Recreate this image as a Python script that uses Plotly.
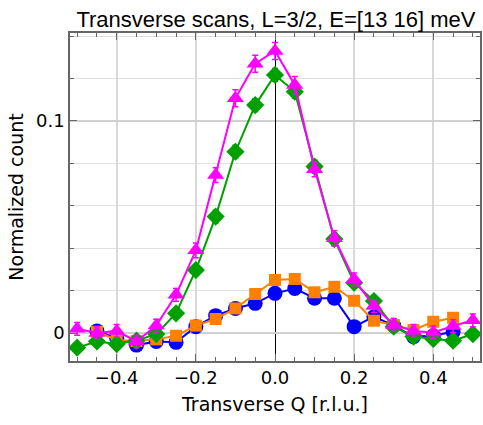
import plotly.graph_objects as go

q = [-0.5, -0.45, -0.4, -0.35, -0.3, -0.25, -0.2, -0.15, -0.1, -0.05, 0.0,
     0.05, 0.1, 0.15, 0.2, 0.25, 0.3, 0.35, 0.4, 0.45, 0.5]
q_short = q[1:20]

blue_vals = [0.001, -0.0025, -0.0057, -0.004, -0.0044, 0.003, 0.0082, 0.0116, 0.014, 0.0187,
             0.021, 0.0164, 0.0164, 0.003, 0.0077, 0.0035, -0.0017, -0.0013, 0.0006]
blue_err = [0.0015] * 19

orange_vals = [0.0006, -0.0033, -0.0038, -0.003, -0.0013, 0.0035, 0.0066, 0.0116, 0.0184, 0.025,
               0.0255, 0.0192, 0.0218, 0.0152, 0.0058, 0.0038, 0.0014, 0.0053, 0.0072]
orange_err = [0.0015] * 19

green_vals = [-0.0069, -0.004, -0.0052, -0.0036, -0.0005, 0.0093, 0.0297, 0.0549, 0.0855, 0.1075,
              0.1217, 0.1138, 0.0785, 0.0443, 0.0237, 0.0151, 0.003, -0.0017, -0.0028, -0.0036, -0.0005]
green_err = [0.002, 0.002, 0.002, 0.002, 0.002, 0.002, 0.0025, 0.003, 0.003, 0.003,
             0.003, 0.003, 0.003, 0.003, 0.0025, 0.002, 0.002, 0.002, 0.002, 0.002, 0.002]

magenta_vals = [0.002, 0.0, 0.001, -0.004, 0.0035, 0.018, 0.039, 0.0745, 0.1107, 0.127,
                0.133, 0.117, 0.0772, 0.0447, 0.0253, 0.0127, 0.0038, 0.001, 0.0003, 0.0033, 0.006]
magenta_err = [0.003, 0.003, 0.003, 0.003, 0.003, 0.003, 0.0035, 0.0035, 0.004, 0.004,
               0.004, 0.004, 0.0035, 0.0035, 0.003, 0.003, 0.003, 0.003, 0.003, 0.003, 0.003]

series = [
    (q_short, blue_vals, blue_err, "#0000FF", "circle", 15),
    (q_short, orange_vals, orange_err, "#FF8000", "square", 12),
    (q, green_vals, green_err, "#00A000", "diamond", 14),
    (q, magenta_vals, magenta_err, "#FF00FF", "triangle-up", 15),
]

fig = go.Figure()
for xs, ys, es, col, sym, sz in series:
    fig.add_trace(go.Scatter(
        x=xs, y=ys, mode="lines+markers",
        line=dict(color=col, width=2),
        marker=dict(color=col, symbol=sym, size=sz, line=dict(width=0)),
        error_y=dict(type="data", array=es, visible=True, color=col, thickness=1.5, width=3),
        showlegend=False,
    ))

fig.update_layout(
    width=483, height=425,
    margin=dict(l=70, r=1, t=33, b=64),
    paper_bgcolor="white", plot_bgcolor="white",
    font=dict(family="DejaVu Sans", size=18, color="black"),
    title=dict(text="Transverse scans, L=3/2, E=[13 16] meV",
               font=dict(family="Liberation Sans", size=22, color="black"),
               x=0.5713, xanchor="center", y=0.955, yanchor="middle"),
    xaxis=dict(
        range=[-0.518, 0.518], dtick=0.2, tick0=0, tickformat=".1f",
        showgrid=True, gridcolor="#d8d8d8", gridwidth=1.5,
        zeroline=True, zerolinecolor="black", zerolinewidth=1.2,
        showline=True, linecolor="#666666", linewidth=1.5, mirror="ticks",
        ticks="inside", ticklen=7, tickcolor="#666666",
        minor=dict(dtick=0.05, ticks="inside", ticklen=4, tickcolor="#666666", showgrid=False),
        title=dict(text="Transverse Q [r.l.u.]", standoff=10, font=dict(size=19)),
        tickfont=dict(size=18),
    ),
    yaxis=dict(
        range=[-0.0132, 0.1415], dtick=0.1, tick0=0,
        showgrid=True, gridcolor="#d0d0d0", gridwidth=2,
        zeroline=True, zerolinecolor="#d0d0d0", zerolinewidth=2,
        showline=True, linecolor="#666666", linewidth=1.5, mirror="ticks",
        ticks="inside", ticklen=7, tickcolor="#666666",
        minor=dict(dtick=0.02, ticks="inside", ticklen=4, tickcolor="#666666",
                   showgrid=True, gridcolor="#e0e0e0", gridwidth=1),
        title=dict(text="Normalized count", standoff=7, font=dict(size=19)),
        tickfont=dict(size=18),
    ),
)

fig.write_html("out.html", config={"displayModeBar": False},
               post_script="document.body.style.margin='0';document.body.style.padding='0';")
